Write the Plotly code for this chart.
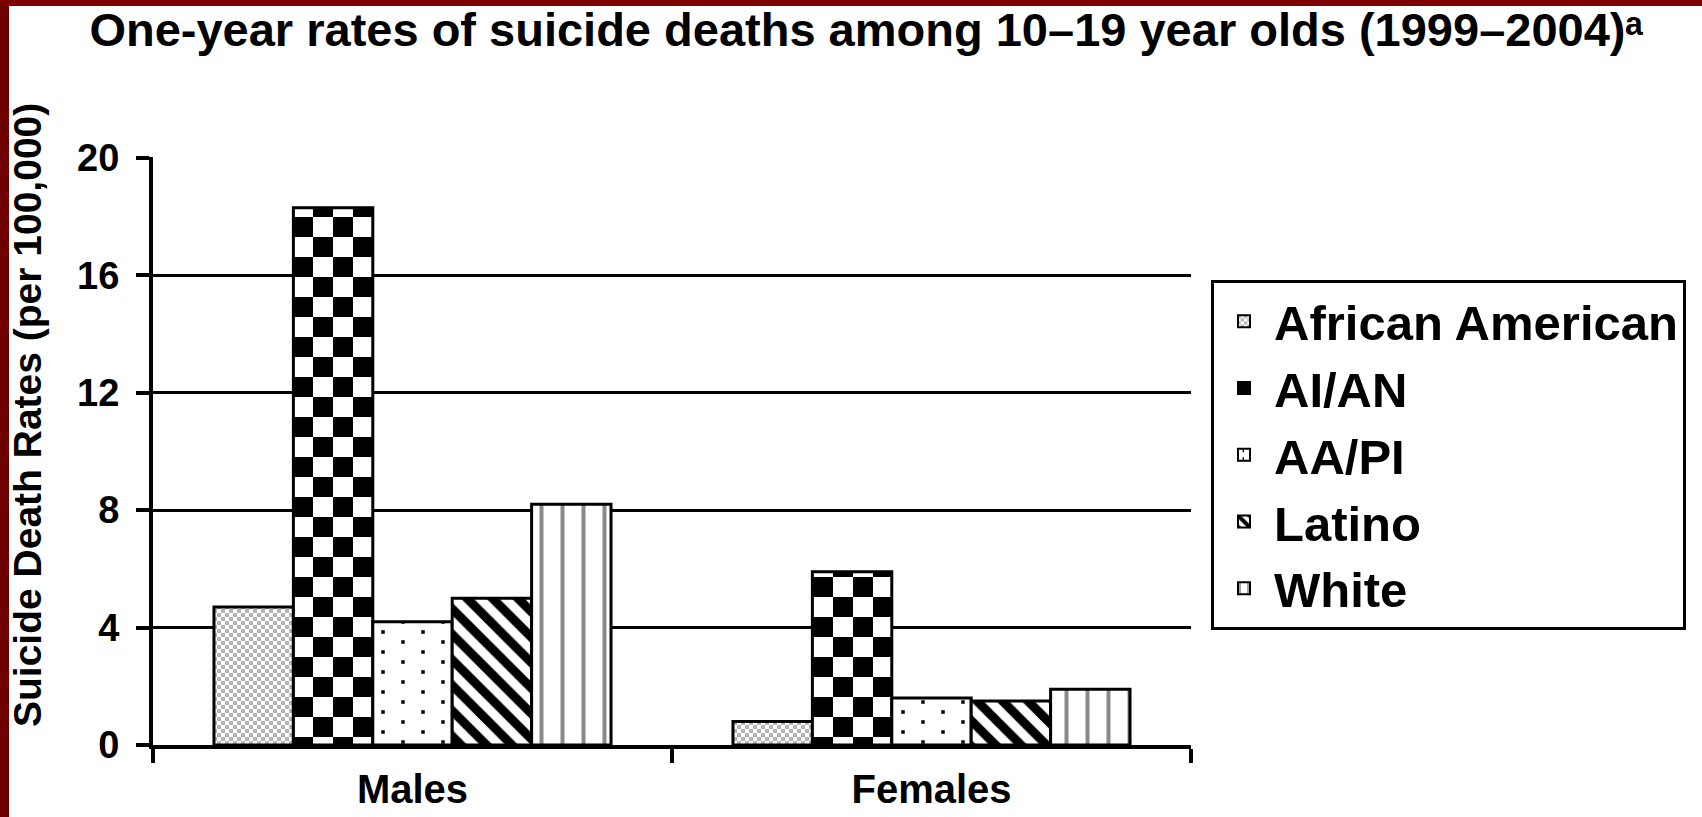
import plotly.graph_objects as go

# ---- data ----
categories = ["Males", "Females"]
groups = ["African American", "AI/AN", "AA/PI", "Latino", "White"]
african_american = [4.7, 0.8]
ai_an = [18.3, 5.9]
aa_pi = [4.2, 1.6]
latino = [5.0, 1.5]
white = [8.2, 1.9]
y_ticks = [0, 4, 8, 12, 16, 20]

series = [african_american, ai_an, aa_pi, latino, white]

FONT = "Arial, Liberation Sans, Helvetica, sans-serif"


def checker(size):
    h = size / 2
    return f"M0,0H{h}V{h}H0ZM{h},{h}H{size}V{size}H{h}Z"


def dots(size, d):
    pts = [(size / 4, size / 8), (3 * size / 4, 3 * size / 8),
           (size / 4, 5 * size / 8), (3 * size / 4, 7 * size / 8)]
    return "".join(f"M{x - d/2},{y - d/2}h{d}v{d}h{-d}Z" for x, y in pts)


patterns = [
    dict(path=checker(8), size=8, fgcolor="#b4b4b4", bgcolor="white", fgopacity=1, fillmode="replace"),
    dict(path=checker(40), size=40, fgcolor="black", bgcolor="white", fgopacity=1, fillmode="replace"),
    dict(path=dots(40, 3.5), size=40, fgcolor="black", bgcolor="white", fgopacity=1, fillmode="replace"),
    dict(shape="\\", size=18, solidity=0.5, fgcolor="black", bgcolor="white", fgopacity=1, fillmode="replace"),
    dict(shape="|", size=21, solidity=0.19, fgcolor="#8a8a8a", bgcolor="white", fgopacity=1, fillmode="replace"),
]

fig = go.Figure()
for name, vals, pat in zip(groups, series, patterns):
    fig.add_trace(go.Bar(
        x=categories, y=vals, name=name,
        marker=dict(color="white", pattern=pat, line=dict(color="black", width=3)),
    ))

# plot area in pixels
W, H = 1702, 817
L, R, T, B = 153, 1191, 157, 745


def px_x(p):
    return (p - L) / (R - L)


def px_y(p):
    return (B - p) / (B - T)


shapes = [
    dict(type="rect", xref="paper", yref="paper", x0=px_x(0), x1=px_x(9), y0=px_y(H), y1=px_y(0),
         fillcolor="#6e0000", line=dict(width=0), layer="above"),
    dict(type="rect", xref="paper", yref="paper", x0=px_x(0), x1=px_x(W), y0=px_y(6), y1=px_y(0),
         fillcolor="#7e0000", line=dict(width=0), layer="above"),
]

annotations = [
    dict(text="Suicide Death Rates (per 100,000)", textangle=-90,
         xref="paper", yref="paper", x=px_x(27), y=px_y(415),
         xanchor="center", yanchor="middle", showarrow=False,
         font=dict(size=39, family=FONT, weight="bold", color="black")),
]

fig.update_layout(
    template="none",
    width=W, height=H,
    margin=dict(l=L, r=W - R, t=T, b=H - B, pad=0, autoexpand=False),
    paper_bgcolor="white", plot_bgcolor="white",
    font=dict(family=FONT, color="black", weight="bold"),
    title=dict(
        text="One-year rates of suicide deaths among 10–19 year olds (1999–2004)ᵃ",
        x=0.509, xanchor="center", xref="container",
        y=1 - 30 / H, yanchor="middle", yref="container",
        font=dict(size=47, family=FONT, weight="bold"),
    ),
    barmode="group", bargap=0.235, bargroupgap=0,
    showlegend=True,
    legend=dict(
        x=px_x(1211), xanchor="left", y=px_y(280), yanchor="top",
        xref="paper", yref="paper",
        bordercolor="black", borderwidth=3, bgcolor="white",
        font=dict(size=49, family=FONT, weight="bold"),
        traceorder="normal", itemsizing="constant", itemwidth=50,
    ),
    shapes=shapes,
    annotations=annotations,
)

fig.update_xaxes(
    automargin=False,
    showline=True, linecolor="black", linewidth=4,
    ticks="outside", tickson="boundaries", ticklen=14, tickwidth=4, tickcolor="black",
    tickfont=dict(size=40, family=FONT, weight="bold"),
    ticklabelstandoff=6,
    showgrid=False, zeroline=False,
)
fig.update_yaxes(
    automargin=False,
    range=[0, 20.03], tickvals=y_ticks, ticktext=[str(v) for v in y_ticks],
    showline=True, linecolor="black", linewidth=4,
    ticks="outside", ticklen=13, tickwidth=4, tickcolor="black",
    tickfont=dict(size=38, family=FONT, weight="bold"),
    ticklabelstandoff=9,
    showgrid=True, gridcolor="black", gridwidth=2.5, zeroline=False,
)

fig.write_html("out.html")
